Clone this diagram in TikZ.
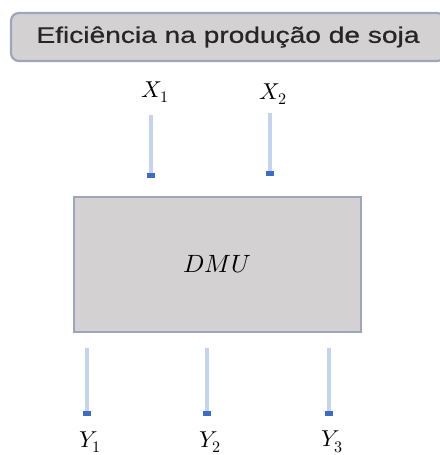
\documentclass[tikz,border=0pt]{standalone}
\usepackage{fontspec}
\setmainfont{Liberation Sans}
\newfontfamily\titlefont[FakeBold=0.6]{Liberation Sans}
\usepackage{unicode-math}
\usetikzlibrary{arrows.meta}
\definecolor{boxfill}{HTML}{D3D1D1}
\definecolor{boxline}{HTML}{9EA6BC}
\definecolor{arrline}{HTML}{C5D4EE}
\definecolor{arrtip}{HTML}{3D6CC4}
\tikzset{
  titlebox/.style={draw=boxline, line width=2.2pt, fill=boxfill, rounded corners=8pt,
    minimum width=434pt, minimum height=48pt, inner sep=0pt},
  dmubox/.style={draw=boxline, line width=2.4pt, fill=boxfill,
    minimum width=287pt, minimum height=135pt, inner sep=0pt},
  varlabel/.style={inner sep=0pt, font=\fontsize{23}{26}\selectfont},
  arr/.style={draw=arrline, line width=3.6pt, -{Square[length=5pt,width=8pt,color=arrtip]}},
}
\begin{document}
\begin{tikzpicture}[x=1pt,y=1pt]
\useasboundingbox (0,0) rectangle (439,-455);
\node[titlebox] (title) at (228,-37) {\scalebox{1.25}[1]{\fontsize{22.5}{26}\titlefont\color{black!85}Eficiência na produção de soja}};
\node[dmubox] (dmu) at (217.5,-264.5) {\fontsize{25}{28}\selectfont$\symit{DMU}$};
\node[varlabel] (x1) at (155,-92) {$X_1$};
\node[varlabel] (x2) at (273,-94) {$X_2$};
\node[varlabel] (y1) at (90,-442) {$Y_1$};
\node[varlabel] (y2) at (210,-442) {$Y_2$};
\node[varlabel] (y3) at (332,-442) {$Y_3$};
\coordinate (x1s) at (151,-115); \coordinate (x1e) at (151,-178);
\coordinate (x2s) at (270,-113); \coordinate (x2e) at (270,-176);
\coordinate (y1s) at (87,-348); \coordinate (y1e) at (87,-416);
\coordinate (y2s) at (207,-348); \coordinate (y2e) at (207,-416);
\coordinate (y3s) at (329,-348); \coordinate (y3e) at (329,-416);
\draw[arr] (x1s) -- (x1e);
\draw[arr] (x2s) -- (x2e);
\draw[arr] (y1s) -- (y1e);
\draw[arr] (y2s) -- (y2e);
\draw[arr] (y3s) -- (y3e);
\end{tikzpicture}
\end{document}
